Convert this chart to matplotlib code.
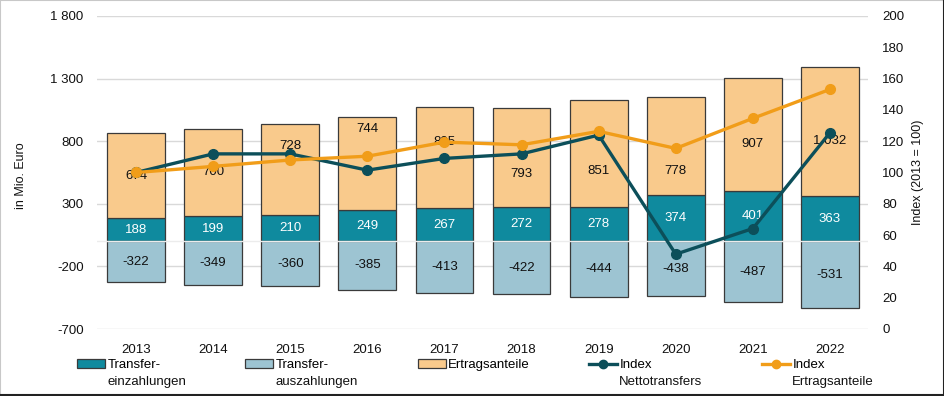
import matplotlib
matplotlib.use("Agg")
import matplotlib.pyplot as plt
from matplotlib.patches import Patch
from matplotlib.lines import Line2D
import numpy as np

plt.rcParams['font.family'] = ['Liberation Sans', 'DejaVu Sans']

years = ['2013', '2014', '2015', '2016', '2017', '2018', '2019', '2020', '2021', '2022']
transfer_ein = [188, 199, 210, 249, 267, 272, 278, 374, 401, 363]
transfer_aus = [-322, -349, -360, -385, -413, -422, -444, -438, -487, -531]
ertragsanteile = [674, 700, 728, 744, 805, 793, 851, 778, 907, 1032]
index_netto = [100, 111.9, 111.9, 101.5, 109.0, 111.9, 123.9, 47.8, 64.2, 125.4]
index_ertrag = [100, 103.9, 108.0, 110.4, 119.4, 117.7, 126.3, 115.4, 134.6, 153.1]
left_ticks = [-700, -200, 300, 800, 1300, 1800]
right_ticks = [0, 20, 40, 60, 80, 100, 120, 140, 160, 180, 200]

# manual label offsets (data units) for Ertragsanteile labels, as in the reference
ertrag_label_dy = [-6, 2, 185, 273, 128, -133, -144, -204, -79, -81]

c_ein = '#0f8a9e'
c_aus = '#9dc4d2'
c_ert = '#f9ca8c'
c_netto = '#0c4f5a'
c_ertline = '#f19d19'
c_edge = '#3a3a3a'

def fmt(v):
    s = f"{abs(v):,}".replace(',', ' ')
    return ('-' if v < 0 else '') + s

W, H = 945, 396
fig = plt.figure(figsize=(W / 100, H / 100), dpi=100)
ax = fig.add_axes([97.5 / W, 1 - 329 / H, (868.5 - 97.5) / W, (329 - 16) / H])
x = np.arange(len(years))
bw = 0.75

ax.bar(x, transfer_ein, bw, color=c_ein, edgecolor=c_edge, linewidth=0.9, zorder=2)
ax.bar(x, transfer_aus, bw, color=c_aus, edgecolor=c_edge, linewidth=0.9, zorder=2)
ax.bar(x, ertragsanteile, bw, bottom=transfer_ein, color=c_ert, edgecolor=c_edge, linewidth=0.9, zorder=2)
ax.axhline(0, color='#ececec', lw=1.0, zorder=3)

fs = 9.5
for i in range(len(years)):
    ax.text(x[i], transfer_ein[i] / 2, fmt(transfer_ein[i]), ha='center', va='center',
            color='white', fontsize=fs, zorder=4)
    ax.text(x[i], transfer_aus[i] / 2, fmt(transfer_aus[i]), ha='center', va='center',
            color='#111111', fontsize=fs, zorder=4)
    ax.text(x[i], transfer_ein[i] + ertragsanteile[i] / 2 + ertrag_label_dy[i], fmt(ertragsanteile[i]),
            ha='center', va='center', color='#111111', fontsize=fs, zorder=4)

ax.set_ylim(-700, 1800)
ax.set_xlim(-0.5, len(years) - 0.5)
ax.set_yticks(left_ticks)
ax.set_yticklabels([fmt(t) for t in left_ticks])
ax.set_xticks(x)
ax.set_xticklabels(years)
ax.yaxis.grid(True, color='#d9d9d9', lw=1.0, zorder=0)
ax.set_axisbelow(True)
for s in ax.spines.values():
    s.set_visible(False)
ax.tick_params(axis='y', length=0, pad=10, labelsize=fs, colors='#111111')
ax.tick_params(axis='x', length=0, pad=11, labelsize=fs, colors='#111111')

ax2 = ax.twinx()
ax2.plot(x, index_netto, color=c_netto, lw=2.4, marker='o', ms=7, zorder=5)
ax2.plot(x, index_ertrag, color=c_ertline, lw=2.4, marker='o', ms=7, zorder=5)
ax2.set_ylim(0, 200)
ax2.set_yticks(right_ticks)
for s in ax2.spines.values():
    s.set_visible(False)
ax2.tick_params(axis='y', length=0, pad=10, labelsize=fs, colors='#111111')

fig.text(21 / W, 1 - 176 / H, 'in Mio. Euro', rotation=90, ha='center', va='center', fontsize=9,
         color='#111111')
fig.text(918 / W, 1 - 172 / H, 'Index (2013 = 100)', rotation=90, ha='center', va='center', fontsize=9,
         color='#111111')

handles = [
    (Patch(facecolor=c_ein, edgecolor=c_edge, linewidth=0.9), 'Transfer-', 'einzahlungen', 77),
    (Patch(facecolor=c_aus, edgecolor=c_edge, linewidth=0.9), 'Transfer-', 'auszahlungen', 245),
    (Patch(facecolor=c_ert, edgecolor=c_edge, linewidth=0.9), 'Ertragsanteile', '', 418),
    (Line2D([], [], color=c_netto, lw=2.4, marker='o', ms=6), 'Index', 'Nettotransfers', 589),
    (Line2D([], [], color=c_ertline, lw=2.4, marker='o', ms=6), 'Index', 'Ertragsanteile', 762),
]
legs = []
for h, lab1, lab2, px in handles:
    lg = fig.legend([h], [lab1], loc='upper left', bbox_to_anchor=(px / W, 1 - 359 / H),
                    frameon=False, fontsize=fs, handlelength=2.1, handletextpad=0.2,
                    borderpad=0, borderaxespad=0)
    legs.append((lg, lab2))

fig.canvas.draw()
inv = fig.transFigure.inverted()
for lg, lab2 in legs:
    if lab2:
        bb = lg.get_texts()[0].get_window_extent()
        x0, y0 = inv.transform((bb.x0, bb.y0))
        fig.text(x0, y0 - 5 / H, lab2, ha='left', va='top', fontsize=fs, color='#111111')

# outer frame
fig.add_artist(Line2D([0, 1], [0.999, 0.999], transform=fig.transFigure, color='#c8c8c8', lw=1.5))
fig.add_artist(Line2D([0.0005, 0.0005], [0, 1], transform=fig.transFigure, color='#c8c8c8', lw=1.5))
fig.add_artist(Line2D([0, 1], [0.002, 0.002], transform=fig.transFigure, color='#222222', lw=1.5))
fig.add_artist(Line2D([0.999, 0.999], [0, 1], transform=fig.transFigure, color='#222222', lw=1.5))

fig.savefig('out.png', dpi=100)
